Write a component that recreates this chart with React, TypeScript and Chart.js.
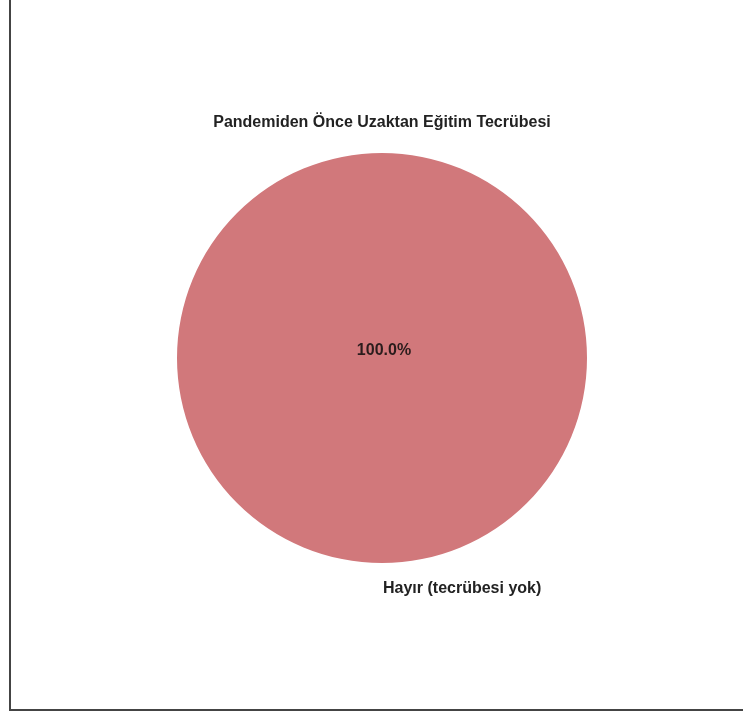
import React, { useEffect, useRef } from "react";
import { Chart, registerables } from "chart.js";

Chart.register(...registerables);

const title = "Pandemiden Önce Uzaktan Eğitim Tecrübesi";
const categories = ["Hayır (tecrübesi yok)"];
const values = [100];
const colors = ["#d1787b"];

const textPlugin = {
  id: "textPlugin",
  afterDraw(chart: any) {
    const ctx = chart.ctx;
    const meta = chart.getDatasetMeta(0);
    const total = values.reduce((a, b) => a + b, 0);
    ctx.save();
    ctx.font = "bold 16px 'Liberation Sans', Arial, sans-serif";
    ctx.fillStyle = "#222222";
    ctx.textAlign = "center";
    ctx.textBaseline = "middle";
    const arc0 = meta.data[0];
    const cx = arc0.x;
    const cy = arc0.y;
    const r = arc0.outerRadius;
    ctx.fillText(title, cx, chart.chartArea.top - 30);
    meta.data.forEach((arc: any, i: number) => {
      const mid = (arc.startAngle + arc.endAngle) / 2;
      const frac = values[i] / total;
      const pctDist = frac >= 0.999 ? 0 : 0.6;
      ctx.font = "bold 16px 'Liberation Sans', Arial, sans-serif";
      ctx.fillStyle = "#2a1c1c";
      ctx.textAlign = "center";
      ctx.fillText((frac * 100).toFixed(1) + "%", cx + 2 + Math.cos(mid) * r * pctDist, cy - 7 + Math.sin(mid) * r * pctDist);
      const lx = cx + Math.cos(mid) * r * 1.1;
      const ly = cy + Math.sin(mid) * r * 1.1;
      ctx.fillStyle = "#222222";
      ctx.textAlign = Math.cos(mid) >= -1e-6 ? "left" : "right";
      ctx.fillText(categories[i], lx + 1, ly + 5);
    });
    ctx.restore();
  },
};

export default function App() {
  const ref = useRef<HTMLCanvasElement | null>(null);
  useEffect(() => {
    if (!ref.current) return;
    const chart = new Chart(ref.current, {
      type: "pie",
      data: {
        labels: categories,
        datasets: [
          {
            data: values,
            backgroundColor: colors,
            borderWidth: 0,
          },
        ],
      },
      options: {
        animation: false,
        responsive: false,
        rotation: 0,
        layout: { padding: { left: 177, right: 156, top: 153, bottom: 150 } },
        plugins: {
          legend: { display: false },
          tooltip: { enabled: false },
          title: { display: false },
        },
      },
      plugins: [textPlugin],
    });
    return () => chart.destroy();
  }, []);
  return (
    <div style={{ position: "fixed", left: 0, top: 0, width: 743, height: 713, background: "#ffffff" }}>
      <canvas ref={ref} width={743} height={713} style={{ position: "absolute", left: 0, top: 0 }} />
      <div
        style={{
          position: "absolute",
          left: 9,
          top: -2,
          width: 740,
          height: 713,
          borderLeft: "2px solid #444444",
          borderBottom: "2px solid #444444",
          borderTop: "1px solid #eeeeee",
          boxSizing: "border-box",
          pointerEvents: "none",
        }}
      />
    </div>
  );
}
